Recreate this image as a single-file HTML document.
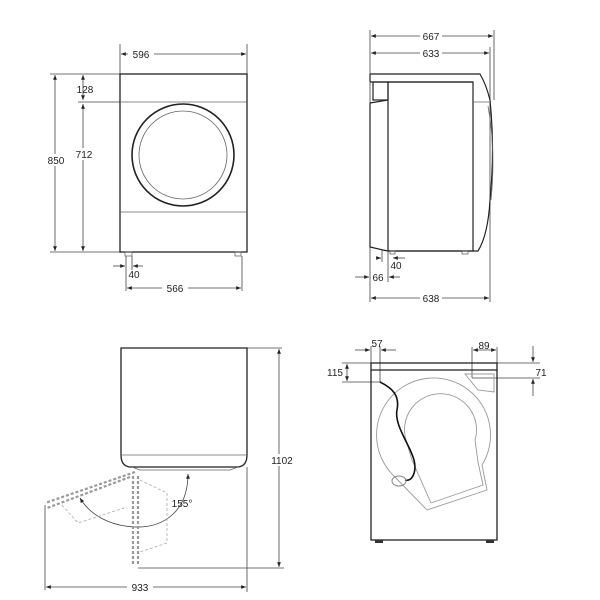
<!DOCTYPE html>
<html><head><style>body{margin:0;background:#fff}svg{display:block}</style></head><body>
<svg width="600" height="600" viewBox="0 0 600 600" xmlns="http://www.w3.org/2000/svg" font-family="Liberation Sans, sans-serif" font-size="10" fill="none">
<defs>
<marker id="a" viewBox="0 0 10 10" refX="10" refY="5" markerWidth="6" markerHeight="6" orient="auto-start-reverse"><path d="M0,1 L10,5 L0,9 z" fill="#222"/></marker>
</defs>
<g stroke="#444" stroke-width="0.8">
<line x1="120" y1="44" x2="120" y2="74"/><line x1="247" y1="44" x2="247" y2="74"/>
<line x1="121" y1="54" x2="246" y2="54" marker-start="url(#a)" marker-end="url(#a)"/>
<line x1="50" y1="74" x2="120" y2="74"/><line x1="78" y1="102" x2="120" y2="102"/><line x1="50" y1="252" x2="120" y2="252"/>
<line x1="55" y1="75" x2="55" y2="251" marker-start="url(#a)" marker-end="url(#a)"/>
<line x1="83" y1="75" x2="83" y2="100" marker-start="url(#a)" marker-end="url(#a)"/>
<line x1="83" y1="104" x2="83" y2="251" marker-start="url(#a)" marker-end="url(#a)"/>
<line x1="126" y1="256" x2="126" y2="291"/><line x1="132" y1="256" x2="132" y2="270"/><line x1="242" y1="256" x2="242" y2="291"/>
<line x1="113" y1="266" x2="125" y2="266" marker-end="url(#a)"/><line x1="143" y1="266" x2="133" y2="266" marker-end="url(#a)"/>
<line x1="127" y1="288" x2="241" y2="288" marker-start="url(#a)" marker-end="url(#a)"/>
</g>
<g stroke="#222" stroke-width="1.3">
<rect x="120" y="74" width="127" height="178"/>
<circle cx="183" cy="155" r="51" stroke-width="1.6"/>
</g>
<g stroke="#666" stroke-width="0.8">
<line x1="120" y1="102" x2="247" y2="102"/><line x1="120" y1="212" x2="247" y2="212"/>
<circle cx="183" cy="155" r="44"/>
<rect x="125" y="252" width="7" height="4"/><rect x="235" y="252" width="6" height="4"/>
</g>
<g fill="#222" stroke="none">
<rect x="128" y="48" width="26" height="12" fill="#fff"/><text x="141" y="58" text-anchor="middle">596</text>
<rect x="46" y="154" width="20" height="12" fill="#fff"/><text x="56" y="164" text-anchor="middle">850</text>
<rect x="74" y="148" width="20" height="12" fill="#fff"/><text x="84" y="158" text-anchor="middle">712</text>
<text x="85" y="93" text-anchor="middle">128</text>
<text x="134" y="278" text-anchor="middle">40</text>
<rect x="162" y="282" width="26" height="12" fill="#fff"/><text x="175" y="292" text-anchor="middle">566</text>
</g>

<!-- SIDE VIEW -->
<g stroke="#444" stroke-width="0.8">
<line x1="370" y1="30" x2="370" y2="302"/><line x1="494" y1="30" x2="494" y2="100"/><line x1="490" y1="47" x2="490" y2="302"/>
<line x1="371" y1="36" x2="493" y2="36" marker-start="url(#a)" marker-end="url(#a)"/>
<line x1="371" y1="53" x2="489" y2="53" marker-start="url(#a)" marker-end="url(#a)"/>
<line x1="371" y1="298" x2="489" y2="298" marker-start="url(#a)" marker-end="url(#a)"/>
<line x1="382" y1="250" x2="382" y2="262"/><line x1="388" y1="250" x2="388" y2="282"/>
<line x1="376" y1="258" x2="381" y2="258" marker-end="url(#a)"/><line x1="405" y1="258" x2="393" y2="258" marker-end="url(#a)"/>
<line x1="355" y1="277" x2="369" y2="277" marker-end="url(#a)"/><line x1="400" y1="277" x2="389" y2="277" marker-end="url(#a)"/>
</g>
<g stroke="#222" stroke-width="1.2">
<path d="M370 74 H480 Q486 84 490 100 Q495 150 490 200 Q488 235 478 251 H388"/>
<line x1="370" y1="74" x2="370" y2="82"/><line x1="370" y1="82" x2="473" y2="82"/>
<rect x="388" y="82" width="85" height="169"/>
<path d="M370 103 L388 100 M370 103 V247 L383 250 L388 251"/>
<rect x="373" y="82" width="15" height="18"/>
</g>
<g stroke="#666" stroke-width="0.8">
<path d="M473 102 H490 M488 106 Q496 150 491 200"/>
<rect x="390" y="251" width="5" height="3"/><rect x="462" y="251" width="6" height="3"/>
</g>
<g fill="#222" stroke="none">
<rect x="420" y="30" width="22" height="12" fill="#fff"/><text x="431" y="40" text-anchor="middle">667</text>
<rect x="420" y="47" width="22" height="12" fill="#fff"/><text x="431" y="57" text-anchor="middle">633</text>
<text x="396" y="269" text-anchor="middle">40</text>
<text x="378" y="281" text-anchor="middle">66</text>
<rect x="420" y="292" width="22" height="12" fill="#fff"/><text x="431" y="302" text-anchor="middle">638</text>
</g>

<!-- TOP VIEW (door open) -->
<g stroke="#444" stroke-width="0.8">
<line x1="247" y1="348" x2="282" y2="348"/>
<line x1="279" y1="349" x2="279" y2="567" marker-start="url(#a)" marker-end="url(#a)"/>
<line x1="138" y1="568" x2="284" y2="568"/>
<line x1="247" y1="467" x2="247" y2="592"/>
<line x1="46" y1="587" x2="246" y2="587" marker-start="url(#a)" marker-end="url(#a)"/>
<line x1="45" y1="505" x2="45" y2="590"/>
<path d="M188 474 C188 510 165 528 135 527 C110 526 90 515 80 498" marker-start="url(#a)" marker-end="url(#a)"/>
</g>
<g stroke="#222" stroke-width="1.3">
<path d="M121 348 H247 V455 Q247 466 238 467 H130 Q121 466 121 455 Z"/>
</g>
<g stroke="#666" stroke-width="0.8">
<line x1="121" y1="455" x2="247" y2="455"/>
<path d="M132 467 L140 470 H230 L238 467"/>
</g>
<g stroke="#999" stroke-width="2.2" stroke-dasharray="3,2">
<path d="M135 472 L45 503 M130 477 L47 508"/>
<path d="M133 476 V566 M138 476 V566"/>
</g>
<g stroke="#aaa" stroke-width="0.8" stroke-dasharray="3,2">
<path d="M62 505 L78 523 L127 507"/>
<path d="M140 480 L167 493 V543 L140 552"/>
</g>
<g fill="#222" stroke="none">
<rect x="127" y="581" width="26" height="12" fill="#fff"/><text x="140" y="591" text-anchor="middle">933</text>
<rect x="270" y="454" width="24" height="12" fill="#fff"/><text x="282" y="464" text-anchor="middle">1102</text>
<text x="182" y="507" text-anchor="middle">155°</text>
</g>

<!-- REAR VIEW -->
<g stroke="#444" stroke-width="0.8">
<line x1="371" y1="346" x2="371" y2="363"/><line x1="380" y1="346" x2="380" y2="382"/>
<line x1="355" y1="350" x2="370" y2="350" marker-end="url(#a)"/><line x1="396" y1="350" x2="381" y2="350" marker-end="url(#a)"/>
<line x1="342" y1="363" x2="371" y2="363"/><line x1="342" y1="382" x2="380" y2="382"/>
<line x1="347" y1="364" x2="347" y2="381" marker-start="url(#a)" marker-end="url(#a)"/>
<line x1="472" y1="347" x2="472" y2="378"/><line x1="497" y1="347" x2="497" y2="363"/>
<line x1="473" y1="350" x2="496" y2="350" marker-start="url(#a)" marker-end="url(#a)"/>
<line x1="497" y1="363" x2="540" y2="363"/><line x1="472" y1="378" x2="540" y2="378"/>
<line x1="533" y1="346" x2="533" y2="362" marker-end="url(#a)"/><line x1="533" y1="396" x2="533" y2="379" marker-end="url(#a)"/>
</g>
<g stroke="#222" stroke-width="1.3">
<rect x="371" y="363" width="126" height="177"/>
<line x1="371" y1="370" x2="497" y2="370"/>
</g>
<g stroke="#999" stroke-width="0.9">
<path d="M392 474 A57 57 0 1 1 482 465 L487 490 L427 510 L392 474"/>
<path d="M412 460 L406 440 A36 36 0 1 1 475 440 L478 462 L483 485 L431 503 Z"/>
<path d="M465 374 H494 V392 L478 390 Z"/>
</g>
<path d="M380 382 C392 388 400 395 397 410 C394 425 410 445 414 460 C417 472 412 482 405 480" stroke="#111" stroke-width="1.6"/>
<ellipse cx="399" cy="481" rx="7" ry="5" stroke="#888" stroke-width="1"/>
<rect x="375" y="540" width="8" height="3" fill="#333"/><rect x="486" y="540" width="8" height="3" fill="#333"/>
<g fill="#222" stroke="none">
<text x="377" y="347" text-anchor="middle">57</text>
<text x="484" y="349" text-anchor="middle">89</text>
<text x="335" y="376" text-anchor="middle">115</text>
<text x="541" y="376" text-anchor="middle">71</text>
</g>
</svg>
</body></html>
